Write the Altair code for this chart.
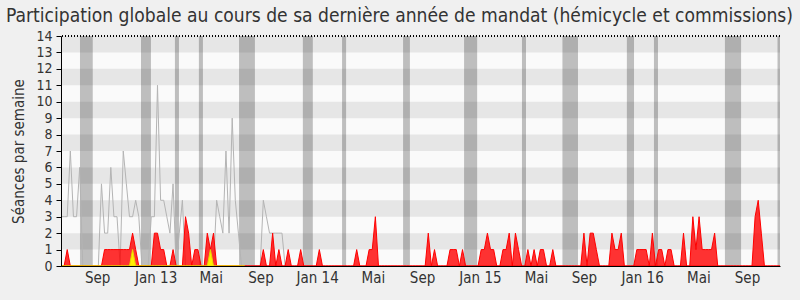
import altair as alt
import pandas as pd

# weekly values (week index 0..231)
presence = [
    0,0,1,0,0,0,0,0,0,0, 0,0,0,0,1,1,1,1,1,1,
    1,1,1,2,1,0,0,0,0,0, 2,2,1,1,0,0,1,0,0,0,
    3,2,0,1,1,0,0,2,1,2, 0,0,0,0,0,0,0,0,0,0,
    0,0,0,0,0,1,0,0,2,0, 1,0,0,1,0,0,0,1,0,0,
    0,0,0,1,0,0,0,0,0,0, 0,0,0,0,0,1,0,0,0,1,
    1,3,0,0,0,0,0,0,0,0, 0,0,0,0,0,0,0,0,2,0,
    1,0,0,0,0,1,1,1,0,1, 0,0,0,0,0,1,1,2,1,1,
    0,0,1,1,2,0,2,1,0,0, 1,0,1,0,1,1,0,0,1,0,
    0,0,0,0,0,0,0,0,2,0, 2,2,1,0,0,0,0,2,1,1,
    2,0,0,0,0,1,1,1,1,0, 2,0,1,1,0,1,1,0,0,0,
    2,0,0,3,1,3,1,1,1,1, 2,0,0,0,0,0,0,0,0,0,
    0,0,0,3,4,2,0,0,0,0, 0,0,
]
interventions = [
    0,0,0,0,0,0,0,0,0,0, 0,0,0,0,0,0,0,0,0,0,
    0,0,0,1,0,0,0,0,0,0, 0,0,0,0,0,0,0,0,0,0,
    0,0,0,0,0,0,0,0,1,0, 0,0,0,0,0,0,0,0,0,0,
]
mediane = [
    3,3,3,7,3,3,6,0,0,0, 0,0,0,5,2,2,6,3,3,0,
    7,5,3,3,4,3,0,0,0,3, 3,11,4,4,3,2,5,0,2,4,
    0,0,0,0,0,0,0,0,0,0, 4,3,2,7,2,9,4,2,0,0,
    0,0,0,0,0,4,3,2,2,2, 2,2,0,
]

vac_start = [6.1, 25.7, 36.6, 44.3, 57.2, 77.7, 90.3, 109.9, 129.5, 148.1, 161.1, 181.8, 190.5, 213.3, 230.2]
vac_end = [10.2, 28.9, 37.9, 45.6, 62.3, 80.9, 91.6, 112.1, 133.7, 149.4, 166.1, 184.1, 191.8, 218.5, 231.0]

tick_pos = [11.6, 30.4, 48.1, 64.1, 82.3, 100.2, 116.0, 134.6, 152.6, 168.0, 186.7, 204.8, 220.4]
tick_lab = ["Sep", "Jan 13", "Mai", "Sep", "Jan 14", "Mai", "Sep", "Jan 15", "Mai", "Sep", "Jan 16", "Mai", "Sep"]

stripe_lo = [1, 3, 5, 7, 9, 11, 13]
stripe_hi = [2, 4, 6, 8, 10, 12, 14]
y_ticks = list(range(15))

FONT = "DejaVu Sans Condensed"
N = len(presence)

df_p = pd.DataFrame({"week": list(range(N)), "v": presence})
df_i = pd.DataFrame({"week": list(range(len(interventions))), "v": interventions})
df_m = pd.DataFrame({"week": list(range(len(mediane))), "v": mediane})
df_vac = pd.DataFrame({"a": vac_start, "b": vac_end})
df_str = pd.DataFrame({"lo": stripe_lo, "hi": stripe_hi})

xs = alt.Scale(domain=[0, N - 1], nice=False, zero=False)
ys = alt.Scale(domain=[0, 14], nice=False, zero=True)

lab_expr = "[" + ",".join(f"'{t}'" for t in tick_lab) + "][indexof([" + ",".join(str(p) for p in tick_pos) + "], datum.value)]"

x_axis = alt.Axis(values=tick_pos, labelExpr=lab_expr, ticks=False, grid=False, title=None,
                  labelFontSize=15, labelFont=FONT, labelColor="#333", domainColor="#000",
                  labelPadding=4, zindex=1, labelFlush=False, labelOverlap=False)
y_axis = alt.Axis(values=y_ticks, tickCount=15, grid=False, title="Séances par semaine", tickSize=5,
                  labelFontSize=14, labelFont=FONT, labelColor="#333", tickColor="#000",
                  domainColor="#000", labelPadding=4, labelOverlap=False, labelFlush=False,
                  titleFont=FONT, titleFontSize=15,
                  titleFontWeight="normal", titleColor="#333", titlePadding=9, zindex=1)

stripes = alt.Chart(df_str).mark_rect(color="#e6e6e6").encode(
    x=alt.datum(0, scale=xs, axis=x_axis, type="quantitative"),
    x2=alt.datum(N - 1),
    y=alt.Y("lo:Q", scale=ys, axis=y_axis),
    y2="hi:Q",
)

bands = alt.Chart(df_vac).mark_rect(color="#000000", opacity=0.24).encode(
    x=alt.X("a:Q", scale=xs, axis=x_axis),
    x2="b:Q",
    y=alt.datum(0, scale=ys, axis=y_axis, type="quantitative"),
    y2=alt.datum(14),
)

line = alt.Chart(df_m).mark_line(color="#b4b4b4", strokeWidth=1).encode(
    x=alt.X("week:Q", scale=xs, axis=x_axis),
    y=alt.Y("v:Q", scale=ys, axis=y_axis),
)

red = alt.Chart(df_p).mark_area(fill="#ff0000", fillOpacity=0.8, stroke="#ff0000", strokeWidth=1).encode(
    x=alt.X("week:Q", scale=xs, axis=x_axis),
    y=alt.Y("v:Q", scale=ys, axis=y_axis),
)

yellow = alt.Chart(df_i).mark_area(fill="#ffee00", stroke="#e8d800", strokeWidth=1).encode(
    x=alt.X("week:Q", scale=xs, axis=x_axis),
    y=alt.Y("v:Q", scale=ys, axis=y_axis),
)

top = alt.Chart(df_str).mark_rule(color="#000", strokeDash=[1, 2], strokeWidth=1).encode(
    y=alt.datum(14, scale=ys, axis=y_axis, type="quantitative"),
)

chart = alt.layer(stripes, bands, line, red, yellow, top).properties(
    width=719, height=230,
    title=alt.TitleParams(
        "Participation globale au cours de sa dernière année de mandat (hémicycle et commissions)",
        font=FONT, fontSize=19.1, fontWeight="normal", color="#333", anchor="middle", dx=-21, offset=3,
    ),
    autosize=alt.AutoSizeParams(type="none"),
    padding={"left": 61, "top": 36, "right": 20, "bottom": 34},
    background="#f0f0f0",
).configure_view(fill="#fafafa", stroke=None)

chart.save("out.html", embed_options={"renderer": "svg", "actions": False})
